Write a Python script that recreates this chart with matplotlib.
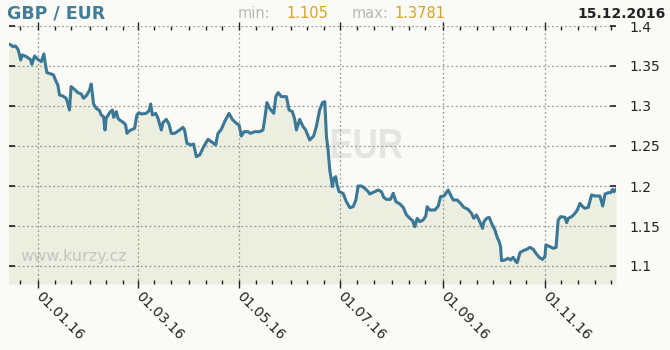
import datetime as dt
import numpy as np
import matplotlib
matplotlib.use("Agg")
import matplotlib.pyplot as plt
import matplotlib.dates as mdates
from matplotlib.textpath import TextPath
from matplotlib.patches import PathPatch
from matplotlib.font_manager import FontProperties
from matplotlib.transforms import Affine2D, IdentityTransform

# ---- data ----
day_offsets = [
    -17.8, -16.2, -15.2, -13.6, -12.1, -11.1, -10.5, -9.5, -7.1, -4.7, -3.7, -2.1, -0.1,
    1.9, 3.5, 4.3, 5.3, 7.9, 9.3, 10.9, 11.9, 12.9, 14.9, 16.9, 17.9, 18.9, 19.9, 21.9,
    23.9, 26.0, 27.4, 29.4, 31.0, 32.0, 33.4, 35.0, 37.0, 38.0, 39.4, 40.3, 41.0, 43.1,
    44.7, 45.5, 47.1, 48.1, 49.1, 51.5, 52.7, 53.5, 55.1, 58.1, 59.5, 60.7, 62.1, 65.1,
    66.8, 67.8, 68.8, 70.8, 72.2, 74.2, 75.2, 77.2, 78.8, 80.2, 82.2, 85.2, 87.2, 88.2,
    89.6, 92.2, 93.6, 95.3, 97.3, 99.7, 102.3, 104.3, 106.9, 108.3, 110.3, 112.3, 114.9,
    116.9, 119.4, 121.0, 122.4, 124.0, 126.4, 127.8, 130.4, 133.4, 135.4, 136.4, 137.8,
    139.4, 141.9, 143.1, 144.5, 146.5, 149.5, 151.1, 153.1, 154.5, 155.5, 157.5, 159.5,
    161.1, 163.5, 165.9, 167.5, 169.5, 171.2, 172.6, 173.6, 174.6, 175.6, 177.2, 178.0,
    179.2, 180.0, 181.2, 183.6, 185.6, 187.7, 189.7, 191.3, 192.7, 194.7, 196.7, 198.7,
    199.7, 201.3, 202.7, 204.7, 206.7, 208.1, 209.7, 212.1, 213.8, 215.4, 217.8, 219.8,
    221.8, 223.8, 225.4, 226.8, 228.2, 229.8, 231.8, 233.4, 234.2, 235.8, 238.9, 240.9,
    242.3, 244.3, 246.9, 248.3, 249.9, 252.3, 254.3, 256.3, 258.9, 260.9, 262.3, 263.9,
    265.6, 267.6, 268.4, 270.0, 271.6, 273.0, 275.0, 276.4, 277.6, 278.4, 279.0, 281.0,
    283.0, 284.4, 286.0, 287.6, 288.4, 290.1, 292.1, 294.1, 296.1, 298.1, 299.7, 301.7,
    303.7, 305.1, 305.7, 308.1, 310.1, 311.8, 313.1, 314.6, 317.2, 318.2, 319.2, 321.2,
    323.2, 324.6, 326.2, 327.8, 329.2, 331.2, 333.2, 335.2, 338.2, 339.9, 341.3, 343.3,
    344.7, 345.9, 346.7, 347.9,
]
rates = [
    1.3775, 1.3763, 1.3742, 1.3750, 1.3708, 1.3638, 1.3575, 1.3638, 1.3617, 1.3583, 1.3521, 1.3625, 1.3583,
    1.3554, 1.3650, 1.3533, 1.3417, 1.3400, 1.3388, 1.3304, 1.3263, 1.3138, 1.3125, 1.3096, 1.3033, 1.2950, 1.3242, 1.3208,
    1.3167, 1.3150, 1.3096, 1.3138, 1.3200, 1.3275, 1.3025, 1.2971, 1.2942, 1.2888, 1.2867, 1.2700, 1.2846, 1.2917,
    1.2950, 1.2858, 1.2929, 1.2846, 1.2825, 1.2792, 1.2763, 1.2658, 1.2692, 1.2721, 1.2888, 1.2917, 1.2900, 1.2908,
    1.2942, 1.3025, 1.2888, 1.2908, 1.2846, 1.2700, 1.2792, 1.2833, 1.2775, 1.2658, 1.2658, 1.2700, 1.2733, 1.2700,
    1.2533, 1.2513, 1.2525, 1.2367, 1.2388, 1.2492, 1.2583, 1.2554, 1.2513, 1.2658, 1.2708, 1.2804, 1.2908,
    1.2833, 1.2783, 1.2763, 1.2625, 1.2679, 1.2679, 1.2658, 1.2679, 1.2679, 1.2700, 1.2833, 1.3042,
    1.2971, 1.2908, 1.3117, 1.3167, 1.3117, 1.3117, 1.2950, 1.2929, 1.2833, 1.2700, 1.2833, 1.2742,
    1.2700, 1.2575, 1.2625, 1.2742, 1.2950, 1.3042, 1.3054, 1.2617, 1.2450, 1.2200, 1.1992, 1.2096,
    1.2117, 1.2013, 1.1929, 1.1908, 1.1804, 1.1729, 1.1742, 1.1825, 1.2000, 1.2000, 1.1971, 1.1929,
    1.1900, 1.1917, 1.1929, 1.1950, 1.1929, 1.1858, 1.1833, 1.1833, 1.1908, 1.1804, 1.1775, 1.1733,
    1.1638, 1.1596, 1.1567, 1.1492, 1.1596, 1.1554, 1.1575, 1.1625, 1.1742, 1.1700, 1.1700, 1.1750,
    1.1867, 1.1875, 1.1950, 1.1888, 1.1825, 1.1825, 1.1783, 1.1733, 1.1708, 1.1658, 1.1596, 1.1638,
    1.1567, 1.1471, 1.1554, 1.1596, 1.1608, 1.1533, 1.1450, 1.1358, 1.1304, 1.1242, 1.1067, 1.1075,
    1.1096, 1.1075, 1.1108, 1.1054, 1.1042, 1.1167, 1.1192, 1.1208, 1.1233, 1.1208, 1.1158, 1.1108,
    1.1083, 1.1117, 1.1263, 1.1242, 1.1221, 1.1233, 1.1575, 1.1617, 1.1608, 1.1542, 1.1596, 1.1617,
    1.1658, 1.1700, 1.1783, 1.1742, 1.1721, 1.1733, 1.1888, 1.1875, 1.1875, 1.1750, 1.1900, 1.1917,
    1.1917, 1.1958, 1.1929, 1.1958,
]
y_ticks = [1.1, 1.15, 1.2, 1.25, 1.3, 1.35, 1.4]
y_tick_labels = ["1.1", "1.15", "1.2", "1.25", "1.3", "1.35", "1.4"]
title = "GBP / EUR"
min_label, min_value = "min:", "1.105"
max_label, max_value = "max:", "1.3781"
date_label = "15.12.2016"
watermark_big = "EUR"
watermark_small = "www.kurzy.cz"

# ---- style ----
BG = "#fafaf6"
FILL = "#eceee0"
LINE = "#3b7796"
GRID = "#9a9a9a"
W, H = 670, 350

fig = plt.figure(figsize=(W / 100, H / 100), dpi=100, facecolor=BG)
left, right, top, bottom = 8.5, 616, 26, 284
ax = fig.add_axes([left / W, 1 - bottom / H, (right - left) / W, (bottom - top) / H])
ax.set_facecolor(BG)

base = mdates.date2num(dt.datetime(2016, 1, 1))
x = base + np.array(day_offsets)
y = np.array(rates)
ymin, ymax = 1.0775, 1.4

ax.fill_between(x, y, ymin, color=FILL, lw=0, zorder=0.1)
ax.plot(x, y, color=LINE, lw=2.2, zorder=3, solid_joinstyle="round")

ax.set_xlim(x[0], x[-1])
ax.set_ylim(ymin, ymax)

for s in ax.spines.values():
    s.set_visible(False)

ax.set_yticks(y_ticks)
ax.set_yticklabels(y_tick_labels)
ax.tick_params(axis="y", which="both", direction="in", left=True, right=True,
               labelleft=False, labelright=True, length=4, width=1.2,
               color="#222222", labelsize=10, labelcolor="#222222", pad=9.5)

ax.xaxis.set_major_locator(mdates.MonthLocator(bymonth=[1, 3, 5, 7, 9, 11]))
ax.xaxis.set_major_formatter(mdates.DateFormatter("%d.%m.%y"))
ax.xaxis.set_minor_locator(mdates.DayLocator(bymonthday=[1, 11, 21]))
ax.tick_params(axis="x", which="major", direction="inout", top=True, bottom=True,
               length=6, width=1, color="#222222", labelsize=10, labelcolor="#222222", pad=4)
ax.tick_params(axis="x", which="minor", direction="in", top=True, bottom=True,
               length=3, width=1, color="#222222")
for lbl in ax.get_xticklabels():
    lbl.set_rotation(-45)
    lbl.set_ha("left")
    lbl.set_va("center")
    lbl.set_rotation_mode("anchor")

ax.grid(True, which="major", color=GRID, linestyle=(0, (1.5, 2.0)), lw=0.9)
ax.set_axisbelow(True)

# big condensed "EUR" watermark (text outline squeezed to the reference box)
tp = TextPath((0, 0), watermark_big, size=100,
              prop=FontProperties(family="Liberation Sans", weight="bold"))
bb = tp.get_extents()
box_x0, box_w = 331.7, 70.6          # pixels from left
box_base, box_h = H - 158.3, 29.3     # pixels from bottom
tr = (Affine2D().translate(-bb.x0, -bb.y0)
      .scale(box_w / bb.width, box_h / bb.height)
      .translate(box_x0, box_base))
ax.add_patch(PathPatch(tr.transform_path(tp), transform=IdentityTransform(),
                       facecolor="#e4e4e2", edgecolor="none", zorder=0.2))

ax.text(0.02, 0.105, watermark_small, transform=ax.transAxes, fontsize=11.5,
        color="#c4c4c2", ha="left", va="center", zorder=0.2)

# header
fig.text(7 / W, 1 - 18 / H, title, fontsize=12.5, fontweight="bold", color="#437c99",
         ha="left", va="baseline")
fig.text(238 / W, 1 - 17.5 / H, min_label, fontsize=10.5, color="#b9b9b9", ha="left", va="baseline")
fig.text(286 / W, 1 - 17.5 / H, min_value, fontsize=10.5, color="#dea21e", ha="left", va="baseline")
fig.text(352 / W, 1 - 17.5 / H, max_label, fontsize=10.5, color="#b9b9b9", ha="left", va="baseline")
fig.text(394 / W, 1 - 17.5 / H, max_value, fontsize=10.5, color="#dea21e", ha="left", va="baseline")
fig.text(666 / W, 1 - 18 / H, date_label, fontsize=10, fontweight="bold", color="#222222",
         ha="right", va="baseline")

fig.savefig("out.png", dpi=100, facecolor=BG)
